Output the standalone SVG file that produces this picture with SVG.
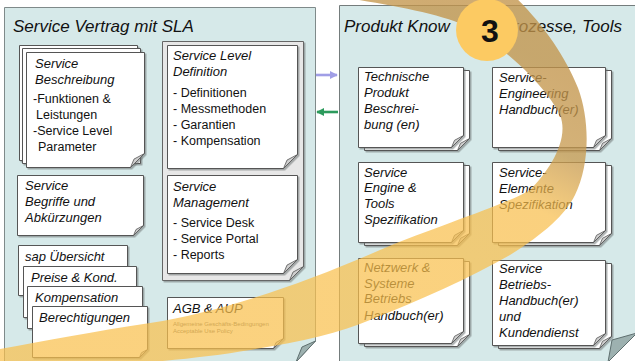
<svg xmlns="http://www.w3.org/2000/svg" width="635" height="361" viewBox="0 0 635 361">
  <style>
    .panel { fill: #d6e9e9; stroke: #7f8a8a; stroke-width: 1; }
    .curl { fill: #9db1b0; stroke: #5f6f6f; stroke-width: 1; stroke-linejoin: round; }
    .page { fill: #ffffff; stroke: #555; stroke-width: 1; filter: url(#shade); }
    .frame { fill: #e7e7e7; stroke: #666; stroke-width: 1; filter: url(#shade); }
    .flap { fill: #cfcfcf; stroke: #555; stroke-width: 0.8; stroke-linejoin: round; }
    .title { font-family: "Liberation Sans", Arial, sans-serif; font-style: italic; font-size: 17px; fill: #111; }
    .head { font-family: "Liberation Sans", Arial, sans-serif; font-style: italic; font-size: 13px; fill: #111; }
    .body { font-family: "Liberation Sans", Arial, sans-serif; font-size: 12.5px; fill: #111; }
    .tiny { font-family: "Liberation Sans", Arial, sans-serif; font-size: 6px; fill: #666; }
    .num { font-family: "Liberation Sans", Arial, sans-serif; font-weight: bold; font-size: 32px; fill: #111; }
  </style>
  <defs>
    <filter id="shade" x="-5%" y="-5%" width="115%" height="115%">
      <feDropShadow dx="1.5" dy="1.5" stdDeviation="0.6" flood-color="#6d7373" flood-opacity="0.55"/>
    </filter>
    <marker id="headPurple" viewBox="0 0 10 10" refX="9" refY="5" markerWidth="3.2" markerHeight="3.2" orient="auto">
      <path d="M0 0 L10 5 L0 10 Z" fill="#a09ee6"/>
    </marker>
    <marker id="headGreen" viewBox="0 0 10 10" refX="9" refY="5" markerWidth="3.2" markerHeight="3.2" orient="auto">
      <path d="M0 0 L10 5 L0 10 Z" fill="#2c9a5c"/>
    </marker>
    <linearGradient id="bandFill" gradientUnits="userSpaceOnUse" x1="540" y1="60" x2="430" y2="280">
      <stop offset="0" stop-color="#c2944a" stop-opacity="0.78"/>
      <stop offset="0.3" stop-color="#c79a4e" stop-opacity="0.76"/>
      <stop offset="0.55" stop-color="#f8be4c" stop-opacity="0.72"/>
      <stop offset="1" stop-color="#f9c04d" stop-opacity="0.72"/>
    </linearGradient>
  </defs>

  <rect x="0" y="0" width="635" height="361" fill="#ffffff"/>

  <!-- left panel: contract -->
  <g id="panel-contract">
    <path class="panel" d="M4.5 7.5 H315.5 V341 L296 362 H4.5 Z"/>
    <path class="curl" d="M315.5 341 L302 347 L296 362 Z"/>
    <text class="title" x="13" y="32">Service Vertrag mit SLA</text>
  </g>

  <!-- right panel: product know-how (title runs behind the step marker) -->
  <g id="panel-product">
    <path class="panel" d="M339.5 5.5 H640 V330 L608 362 H339.5 Z" style="stroke:#747c7c"/>
    <path class="curl" d="M637 333 L612 340 L608 362 Z"/>
    <text class="title" x="344" y="32">Produkt Know</text>
    <text class="title" x="622" y="32" text-anchor="end">rozesse, Tools</text>
  </g>

  <!-- Service Beschreibung (stack of three sheets) -->
  <g id="service-beschreibung">
    <path class="page" d="M19.5 45.5 H137.5 V160.5 H19.5 Z"/>
    <path class="page" d="M22.5 48.5 H140.5 V163.5 H22.5 Z"/>
    <path class="page" d="M26.5 52.5 H144.5 V153.5 L130.5 167.5 H26.5 Z"/>
    <path class="flap" d="M144.5 153.5 L134 159.1 L130.5 167.5 Z"/>
    <text class="head" x="35" y="68">Service</text>
    <text class="head" x="35" y="84">Beschreibung</text>
    <text class="body" x="33" y="103">-Funktionen &amp;</text>
    <text class="body" x="36" y="119">Leistungen</text>
    <text class="body" x="33" y="135">-Service Level</text>
    <text class="body" x="38" y="151">Parameter</text>
  </g>

  <g id="service-begriffe">
    <path class="page" d="M17.5 175.5 H143.5 V225.5 L133.5 235.5 H17.5 Z"/>
    <path class="flap" d="M143.5 225.5 L136 229.5 L133.5 235.5 Z"/>
    <text class="head" x="25" y="190">Service</text>
    <text class="head" x="25" y="206">Begriffe und</text>
    <text class="head" x="25" y="222">Abkürzungen</text>
  </g>

  <!-- Service Level Definition + Service Management share a frame -->
  <g id="sla-frame">
    <path class="frame" d="M162.5 41.5 H303.5 V266.5 L289.5 280.5 H162.5 Z"/>
    <path class="flap" d="M303.5 266.5 L293 272.1 L289.5 280.5 Z"/>
  </g>

  <g id="service-level-definition">
    <path class="page" d="M167.5 45.5 H297.5 V154.5 L283.5 168.5 H167.5 Z"/>
    <path class="flap" d="M297.5 154.5 L287 160.1 L283.5 168.5 Z"/>
    <text class="head" x="173" y="60">Service Level</text>
    <text class="head" x="173" y="76">Definition</text>
    <text class="body" x="173" y="97">- Definitionen</text>
    <text class="body" x="173" y="113">- Messmethoden</text>
    <text class="body" x="173" y="129">- Garantien</text>
    <text class="body" x="173" y="145">- Kompensation</text>
  </g>

  <g id="service-management">
    <path class="page" d="M167.5 175.5 H297.5 V259.5 L283.5 273.5 H167.5 Z"/>
    <path class="flap" d="M297.5 259.5 L287 265.1 L283.5 273.5 Z"/>
    <text class="head" x="173" y="191">Service</text>
    <text class="head" x="173" y="207">Management</text>
    <text class="body" x="173" y="227">- Service Desk</text>
    <text class="body" x="173" y="243">- Service Portal</text>
    <text class="body" x="173" y="259">- Reports</text>
  </g>

  <!-- price sheets stack -->
  <g id="sap-uebersicht">
    <path class="page" d="M18.5 245.5 H127.5 V295.5 H18.5 Z"/>
    <text class="head" x="25" y="261">sap Übersicht</text>
  </g>
  <g id="preise">
    <path class="page" d="M23.5 266.5 H136.5 V317.5 H23.5 Z"/>
    <text class="head" x="31" y="282">Preise &amp; Kond.</text>
  </g>
  <g id="kompensation">
    <path class="page" d="M27.5 286.5 H142.5 V328.5 H27.5 Z"/>
    <text class="head" x="35" y="302">Kompensation</text>
  </g>
  <g id="berechtigungen">
    <path class="page" d="M32.5 306.5 H147.5 V349.5 L139.5 357.5 H32.5 Z"/>
    <path class="flap" d="M147.5 349.5 L141.5 352.7 L139.5 357.5 Z"/>
    <text class="head" x="39" y="322">Berechtigungen</text>
  </g>

  <g id="agb-aup">
    <path class="page" d="M167.5 297.5 H283.5 V338.5 L273.5 348.5 H167.5 Z"/>
    <path class="flap" d="M283.5 338.5 L276 342.5 L273.5 348.5 Z"/>
    <text class="head" x="173" y="313">AGB &amp; AUP</text>
    <text class="tiny" x="173" y="326">Allgemeine Geschäfts-Bedingungen</text>
    <text class="tiny" x="173" y="333">Acceptable Use Policy</text>
  </g>

  <!-- product documents: two sheets each -->
  <g id="technische-produktbeschreibung">
    <path class="page" d="M364.5 70.5 H469.5 V138.5 L457.5 150.5 H364.5 Z"/>
    <path class="flap" d="M469.5 138.5 L460.5 143.3 L457.5 150.5 Z"/>
    <path class="page" d="M358.5 67.5 H463.5 V135.5 L451.5 147.5 H358.5 Z"/>
    <path class="flap" d="M463.5 135.5 L454.5 140.3 L451.5 147.5 Z"/>
    <text class="head" x="364" y="81">Technische</text>
    <text class="head" x="364" y="97">Produkt</text>
    <text class="head" x="364" y="113">Beschrei-</text>
    <text class="head" x="364" y="129">bung (en)</text>
  </g>

  <g id="service-engineering">
    <path class="page" d="M498.5 70.5 H611.5 V138.5 L599.5 150.5 H498.5 Z"/>
    <path class="flap" d="M611.5 138.5 L602.5 143.3 L599.5 150.5 Z"/>
    <path class="page" d="M492.5 67.5 H605.5 V135.5 L593.5 147.5 H492.5 Z"/>
    <path class="flap" d="M605.5 135.5 L596.5 140.3 L593.5 147.5 Z"/>
    <text class="head" x="499" y="82">Service-</text>
    <text class="head" x="499" y="98">Engineering</text>
    <text class="head" x="499" y="114">Handbuch(er)</text>
  </g>

  <g id="service-engine-tools">
    <path class="page" d="M364.5 165.5 H469.5 V233.5 L457.5 245.5 H364.5 Z"/>
    <path class="flap" d="M469.5 233.5 L460.5 238.3 L457.5 245.5 Z"/>
    <path class="page" d="M358.5 162.5 H463.5 V230.5 L451.5 242.5 H358.5 Z"/>
    <path class="flap" d="M463.5 230.5 L454.5 235.3 L451.5 242.5 Z"/>
    <text class="head" x="364" y="177">Service</text>
    <text class="head" x="364" y="192">Engine &amp;</text>
    <text class="head" x="364" y="208">Tools</text>
    <text class="head" x="364" y="224">Spezifikation</text>
  </g>

  <g id="service-elemente">
    <path class="page" d="M498.5 165.5 H611.5 V233.5 L599.5 245.5 H498.5 Z"/>
    <path class="flap" d="M611.5 233.5 L602.5 238.3 L599.5 245.5 Z"/>
    <path class="page" d="M492.5 162.5 H605.5 V230.5 L593.5 242.5 H492.5 Z"/>
    <path class="flap" d="M605.5 230.5 L596.5 235.3 L593.5 242.5 Z"/>
    <text class="head" x="499" y="177">Service-</text>
    <text class="head" x="499" y="193">Elemente</text>
    <text class="head" x="499" y="209">Spezifikation</text>
  </g>

  <g id="netzwerk-systeme">
    <path class="page" d="M364.5 261.5 H469.5 V334.5 L457.5 346.5 H364.5 Z"/>
    <path class="flap" d="M469.5 334.5 L460.5 339.3 L457.5 346.5 Z"/>
    <path class="page" d="M358.5 258.5 H463.5 V331.5 L451.5 343.5 H358.5 Z"/>
    <path class="flap" d="M463.5 331.5 L454.5 336.3 L451.5 343.5 Z"/>
    <text class="head" x="364" y="272">Netzwerk &amp;</text>
    <text class="head" x="364" y="288">Systeme</text>
    <text class="head" x="364" y="303">Betriebs</text>
    <text class="head" x="364" y="320">Handbuch(er)</text>
  </g>

  <g id="service-betrieb">
    <path class="page" d="M498.5 263.5 H611.5 V336.5 L599.5 348.5 H498.5 Z"/>
    <path class="flap" d="M611.5 336.5 L602.5 341.3 L599.5 348.5 Z"/>
    <path class="page" d="M492.5 260.5 H605.5 V333.5 L593.5 345.5 H492.5 Z"/>
    <path class="flap" d="M605.5 333.5 L596.5 338.3 L593.5 345.5 Z"/>
    <text class="head" x="499" y="273">Service</text>
    <text class="head" x="499" y="289">Betriebs-</text>
    <text class="head" x="499" y="305">Handbuch(er)</text>
    <text class="head" x="499" y="321">und</text>
    <text class="head" x="499" y="337">Kundendienst</text>
  </g>

  <!-- exchange between the two panels -->
  <g id="connectors">
    <line x1="316" y1="75" x2="337" y2="75" stroke="#a09ee6" stroke-width="2.6" marker-end="url(#headPurple)"/>
    <line x1="338" y1="112" x2="317" y2="112" stroke="#2c9a5c" stroke-width="2.6" marker-end="url(#headGreen)"/>
  </g>

  <!-- translucent step band with its number -->
  <g id="step-3">
    <path fill="url(#bandFill)" d="M325 -6 C380 4 440 12 470 28 C505 48 545 85 560 115 C570 140 548 172 530 190 C505 205 440 225 380 250 C300 285 220 312 150 323 C90 332 40 342 -6 350 L-6 372 C80 368 180 362 250 350 C300 342 340 333 370 320 C420 300 470 278 510 255 C545 233 565 215 575 195 C590 165 590 120 578 88 C565 55 540 20 512 -6 Z"/>
    <circle cx="487" cy="30" r="31" fill="#fcca62"/>
    <text class="num" x="490" y="42" text-anchor="middle">3</text>
  </g>
</svg>
